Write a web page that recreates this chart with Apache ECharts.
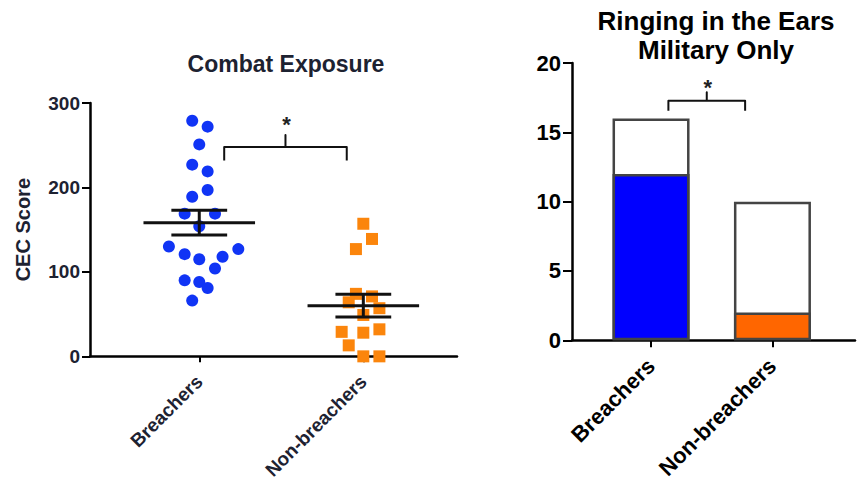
<!DOCTYPE html>
<html>
<head>
<meta charset="utf-8">
<script src="https://cdn.jsdelivr.net/npm/echarts@6/dist/echarts.min.js"></script>
<style>
html,body{margin:0;padding:0;background:#fff;}
#c{width:857px;height:482px;}
</style>
</head>
<body>
<div id="c"></div>
<script>
// ---- data ----
var groups = ['Breachers', 'Non-breachers'];
var cecBreachers = [279, 272, 251, 227, 219, 197, 189, 169, 169, 154, 130, 127, 121, 118, 115, 104, 90, 88, 81, 66];
var jitterBreachers = [-0.043, 0.051, 0, -0.043, 0.051, 0.051, -0.043, -0.089, 0.096, 0, -0.185, 0.238, -0.089, 0.142, 0, 0.096, -0.089, 0, 0.051, -0.043];
var cecNon = [157, 139, 127, 74, 71, 64, 57, 49, 29, 28, 32, 13, 0, 0];
var jitterNon = [0, 0.053, -0.045, -0.045, 0.053, -0.089, 0.098, 0, -0.132, 0, 0.098, -0.089, 0, 0.098];
var ringingTotal = [16, 10];
var ringingYes = [12, 2];
var cecTicks = [0, 100, 200, 300];
var ringTicks = [0, 5, 10, 15, 20];
// significance brackets: [xStart, xEnd, yLine, yEnd, yTip, yStar]
var bracketCEC = [0.152, 0.899, 248, 232, 262, 275];
var bracketRing = [0.143, 0.775, 17.27, 16.56, 17.89, 18.2];

function stats(a) {
  var n = a.length, m = a.reduce(function (s, v) { return s + v; }, 0) / n;
  var v = a.reduce(function (s, x) { return s + (x - m) * (x - m); }, 0) / (n - 1);
  return [m, Math.sqrt(v / n)];
}
var sB = stats(cecBreachers), sN = stats(cecNon);

var FONT = 'Liberation Sans, Arial, sans-serif';
var leftText = '#1d2231';

var chart = echarts.init(document.getElementById('c'), null, {renderer: 'svg'});

function bracketItem(params, api) {
  var d = [api.value(0), api.value(1), api.value(2), api.value(3), api.value(4), api.value(5)];
  var xm = (d[0] + d[1]) / 2;
  var pts = [[d[0], d[3]], [d[0], d[2]], [xm, d[2]], [xm, d[4]], [xm, d[2]], [d[1], d[2]], [d[1], d[3]]].map(function (p) { return api.coord(p); });
  var star = api.coord([xm, d[5]]);
  return {
    type: 'group',
    children: [
      {type: 'polyline', shape: {points: pts}, style: {stroke: '#111', lineWidth: 2, fill: null, lineJoin: 'round'}},
      {type: 'text', x: star[0] + 1, y: star[1], style: {text: '*', font: 'bold 22px ' + FONT, fill: '#222', align: 'center', verticalAlign: 'middle'}}
    ]
  };
}

var option = {
  backgroundColor: '#fff',
  animation: false,
  title: [
    {text: 'Combat Exposure', left: 281, top: 47, textAlign: 'center',
     textStyle: {fontFamily: FONT, fontWeight: 'bold', fontSize: 23, color: leftText}},
    {text: 'Ringing in the Ears\nMilitary Only', left: 711, top: 1, textAlign: 'center',
     textStyle: {fontFamily: FONT, fontWeight: 'bold', fontSize: 26, lineHeight: 29, color: '#000'}}
  ],
  grid: [
    {left: 90, right: 400, top: 103, bottom: 124},
    {left: 572, right: 2, top: 63, bottom: 138}
  ],
  xAxis: [
    {gridIndex: 0, type: 'value', min: -0.666, max: 1.571,
     axisLine: {show: true, onZero: false, lineStyle: {color: '#000', width: 2.5}},
     axisTick: {show: true, customValues: [0, 1], length: 6, lineStyle: {color: '#000', width: 2}},
     axisLabel: {customValues: [0, 1], rotate: 45, margin: 22, fontFamily: FONT, fontWeight: 'bold', fontSize: 19, color: leftText,
       formatter: function (v) { return groups[Math.round(v)]; }},
     splitLine: {show: false}},
    {gridIndex: 1, type: 'value', min: -0.651, max: 1.68,
     axisLine: {show: true, onZero: false, lineStyle: {color: '#000', width: 2.5}},
     axisTick: {show: true, customValues: [0, 1], length: 7, lineStyle: {color: '#000', width: 2}},
     axisLabel: {customValues: [0, 1], rotate: 45, margin: 22, fontFamily: FONT, fontWeight: 'bold', fontSize: 22, color: '#000',
       formatter: function (v) { return groups[Math.round(v)]; }},
     splitLine: {show: false}}
  ],
  yAxis: [
    {gridIndex: 0, type: 'value', min: cecTicks[0], max: cecTicks[cecTicks.length - 1], interval: 100,
     name: 'CEC Score', nameLocation: 'middle', nameGap: 57, nameRotate: 90,
     nameTextStyle: {fontFamily: FONT, fontWeight: 'bold', fontSize: 20, color: leftText},
     axisLine: {show: true, onZero: false, lineStyle: {color: '#000', width: 2.5}},
     axisTick: {show: true, length: 8, lineStyle: {color: '#000', width: 2}},
     axisLabel: {margin: 10, fontFamily: FONT, fontWeight: 'bold', fontSize: 19, color: leftText},
     splitLine: {show: false}},
    {gridIndex: 1, type: 'value', min: ringTicks[0], max: ringTicks[ringTicks.length - 1], interval: 5,
     axisLine: {show: true, onZero: false, lineStyle: {color: '#000', width: 2.5}},
     axisTick: {show: true, length: 9, lineStyle: {color: '#000', width: 2}},
     axisLabel: {margin: 11, fontFamily: FONT, fontWeight: 'bold', fontSize: 22, color: '#000'},
     splitLine: {show: false}}
  ],
  series: [
    {type: 'scatter', xAxisIndex: 0, yAxisIndex: 0, symbol: 'circle', symbolSize: 12,
     itemStyle: {color: '#1034f5', opacity: 1},
     data: cecBreachers.map(function (v, i) { return [0 + jitterBreachers[i], v]; })},
    {type: 'scatter', xAxisIndex: 0, yAxisIndex: 0, symbol: 'rect', symbolSize: 12,
     itemStyle: {color: '#fb850c', opacity: 1},
     data: cecNon.map(function (v, i) { return [1 + jitterNon[i], v]; })},
    {type: 'custom', xAxisIndex: 0, yAxisIndex: 0, z: 5,
     data: [[0, sB[0], sB[1]], [1, sN[0], sN[1]]],
     renderItem: function (params, api) {
       var x = api.value(0), m = api.value(1), e = api.value(2);
       var a = api.coord([x - 0.34, m]), b = api.coord([x + 0.34, m]);
       var hi = api.coord([x, m + e]), lo = api.coord([x, m - e]);
       var h1 = api.coord([x - 0.17, m + e]), h2 = api.coord([x + 0.17, m + e]);
       var l1 = api.coord([x - 0.17, m - e]), l2 = api.coord([x + 0.17, m - e]);
       var st = {stroke: '#111', lineWidth: 3};
       return {type: 'group', children: [
         {type: 'line', shape: {x1: a[0], y1: a[1], x2: b[0], y2: b[1]}, style: st},
         {type: 'line', shape: {x1: hi[0], y1: hi[1], x2: lo[0], y2: lo[1]}, style: st},
         {type: 'line', shape: {x1: h1[0], y1: h1[1], x2: h2[0], y2: h2[1]}, style: st},
         {type: 'line', shape: {x1: l1[0], y1: l1[1], x2: l2[0], y2: l2[1]}, style: st}
       ]};
     }},
    {type: 'custom', xAxisIndex: 0, yAxisIndex: 0, data: [bracketCEC], renderItem: bracketItem},
    {type: 'bar', xAxisIndex: 1, yAxisIndex: 1, barWidth: 77,
     itemStyle: {color: '#fff', borderColor: '#444', borderWidth: 2.5},
     data: ringingTotal.map(function (v, i) { return [i, v]; })},
    {type: 'bar', xAxisIndex: 1, yAxisIndex: 1, barWidth: 77, barGap: '-100%',
     itemStyle: {borderColor: '#444', borderWidth: 2.5},
     data: ringingYes.map(function (v, i) { return {value: [i, v], itemStyle: {color: i === 0 ? '#0000ff' : '#ff6600'}}; })},
    {type: 'custom', xAxisIndex: 1, yAxisIndex: 1, data: [bracketRing], renderItem: bracketItem}
  ]
};
chart.setOption(option);
</script>
</body>
</html>
